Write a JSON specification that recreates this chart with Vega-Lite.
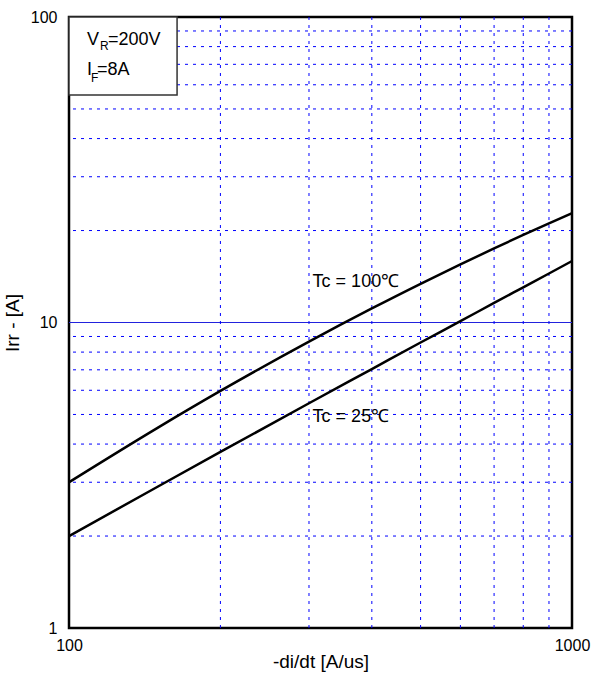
{
  "$schema": "https://vega.github.io/schema/vega-lite/v6.json",
  "width": 503,
  "height": 611,
  "autosize": "none",
  "padding": {"left": 69, "top": 17, "right": 20, "bottom": 46},
  "config": {
    "font": "Liberation Sans",
    "view": {"stroke": "black", "strokeWidth": 2.5},
    "axis": {"grid": false, "ticks": false, "domain": false, "labelColor": "black", "titleColor": "black", "titleFontWeight": "normal", "labelFontSize": 16, "titleFontSize": 19, "labelOverlap": false, "labelBound": false, "labelFlush": false}
  },
  "datasets": {
    "curves": [
      {"series": "100", "x": 100, "y": 3.0},
      {"series": "100", "x": 150, "y": 4.52},
      {"series": "100", "x": 200, "y": 5.97},
      {"series": "100", "x": 300, "y": 8.66},
      {"series": "100", "x": 400, "y": 11.12},
      {"series": "100", "x": 500, "y": 13.39},
      {"series": "100", "x": 600, "y": 15.49},
      {"series": "100", "x": 700, "y": 17.48},
      {"series": "100", "x": 800, "y": 19.35},
      {"series": "100", "x": 900, "y": 21.12},
      {"series": "100", "x": 1000, "y": 22.8},
      {"series": "25", "x": 100, "y": 2.0},
      {"series": "25", "x": 150, "y": 2.9},
      {"series": "25", "x": 200, "y": 3.77},
      {"series": "25", "x": 300, "y": 5.44},
      {"series": "25", "x": 400, "y": 7.04},
      {"series": "25", "x": 500, "y": 8.6},
      {"series": "25", "x": 600, "y": 10.1},
      {"series": "25", "x": 700, "y": 11.59},
      {"series": "25", "x": 800, "y": 13.04},
      {"series": "25", "x": 900, "y": 14.47},
      {"series": "25", "x": 1000, "y": 15.89}
    ],
    "hgrid": [
      {"y": 2}, {"y": 3}, {"y": 4}, {"y": 5}, {"y": 6}, {"y": 7}, {"y": 8}, {"y": 9},
      {"y": 20}, {"y": 30}, {"y": 40}, {"y": 50}, {"y": 60}, {"y": 70}, {"y": 80}, {"y": 90}
    ],
    "hsolid": [{"y": 10}],
    "vgrid": [
      {"x": 200}, {"x": 300}, {"x": 400}, {"x": 500}, {"x": 600}, {"x": 700}, {"x": 800}, {"x": 900}
    ],
    "box": [{"x": 100, "x2": 164, "y": 55.6, "y2": 100}],
    "maintext": [
      {"x": 108.6, "y": 81, "t": "V"},
      {"x": 119.5, "y": 81, "t": "=200V"},
      {"x": 108.6, "y": 64.6, "t": "I"},
      {"x": 113.7, "y": 64.6, "t": "=8A"}
    ],
    "subtext": [
      {"x": 115.2, "y": 78, "t": "R"},
      {"x": 110.6, "y": 61.3, "t": "F"}
    ],
    "annot": [
      {"x": 305, "y": 13.07, "t": "Tc = 100℃"},
      {"x": 305, "y": 4.72, "t": "Tc = 25℃"}
    ]
  },
  "layer": [
    {
      "data": {"name": "hgrid"},
      "mark": {"type": "rule", "color": "#0000ff", "strokeWidth": 1, "strokeDash": [3, 5]},
      "encoding": {
        "y": {"field": "y", "type": "quantitative", "scale": {"type": "log", "domain": [1, 100], "nice": false}, "axis": {"values": [1, 10, 100], "format": "d", "title": "Irr - [A]", "labelPadding": 12, "titlePadding": 8}}
      }
    },
    {
      "data": {"name": "hsolid"},
      "mark": {"type": "rule", "color": "#2222dd", "strokeWidth": 1},
      "encoding": {
        "y": {"field": "y", "type": "quantitative", "scale": {"type": "log", "domain": [1, 100], "nice": false}, "axis": {"values": [1, 10, 100], "format": "d", "title": "Irr - [A]", "labelPadding": 12, "titlePadding": 8}}
      }
    },
    {
      "data": {"name": "vgrid"},
      "mark": {"type": "rule", "color": "#0000ff", "strokeWidth": 1, "strokeDash": [3, 5]},
      "encoding": {
        "x": {"field": "x", "type": "quantitative", "scale": {"type": "log", "domain": [100, 1000], "nice": false}, "axis": {"values": [100, 1000], "format": "d", "title": "-di/dt [A/us]", "titleFontSize": 19, "labelPadding": 9, "titleY": 39, "titleBaseline": "alphabetic"}}
      }
    },
    {
      "data": {"name": "curves"},
      "mark": {"type": "line", "color": "black", "strokeWidth": 2.5, "interpolate": "monotone"},
      "encoding": {
        "x": {"field": "x", "type": "quantitative", "scale": {"type": "log", "domain": [100, 1000], "nice": false}, "axis": {"values": [100, 1000], "format": "d", "title": "-di/dt [A/us]", "titleFontSize": 19, "labelPadding": 9, "titleY": 39, "titleBaseline": "alphabetic"}},
        "y": {"field": "y", "type": "quantitative", "scale": {"type": "log", "domain": [1, 100], "nice": false}, "axis": {"values": [1, 10, 100], "format": "d", "title": "Irr - [A]", "labelPadding": 12, "titlePadding": 8}},
        "detail": {"field": "series", "type": "nominal"}
      }
    },
    {
      "data": {"name": "box"},
      "mark": {"type": "rect", "fill": "white", "stroke": "#333333", "strokeWidth": 1.5},
      "encoding": {
        "x": {"field": "x", "type": "quantitative"},
        "x2": {"field": "x2"},
        "y": {"field": "y", "type": "quantitative"},
        "y2": {"field": "y2"}
      }
    },
    {
      "data": {"name": "maintext"},
      "mark": {"type": "text", "align": "left", "baseline": "alphabetic", "fontSize": 18, "color": "black"},
      "encoding": {
        "x": {"field": "x", "type": "quantitative"},
        "y": {"field": "y", "type": "quantitative"},
        "text": {"field": "t"}
      }
    },
    {
      "data": {"name": "subtext"},
      "mark": {"type": "text", "align": "left", "baseline": "alphabetic", "fontSize": 12, "color": "black"},
      "encoding": {
        "x": {"field": "x", "type": "quantitative"},
        "y": {"field": "y", "type": "quantitative"},
        "text": {"field": "t"}
      }
    },
    {
      "data": {"name": "annot"},
      "mark": {"type": "text", "align": "left", "baseline": "alphabetic", "fontSize": 18, "color": "black"},
      "encoding": {
        "x": {"field": "x", "type": "quantitative"},
        "y": {"field": "y", "type": "quantitative"},
        "text": {"field": "t"}
      }
    }
  ]
}
